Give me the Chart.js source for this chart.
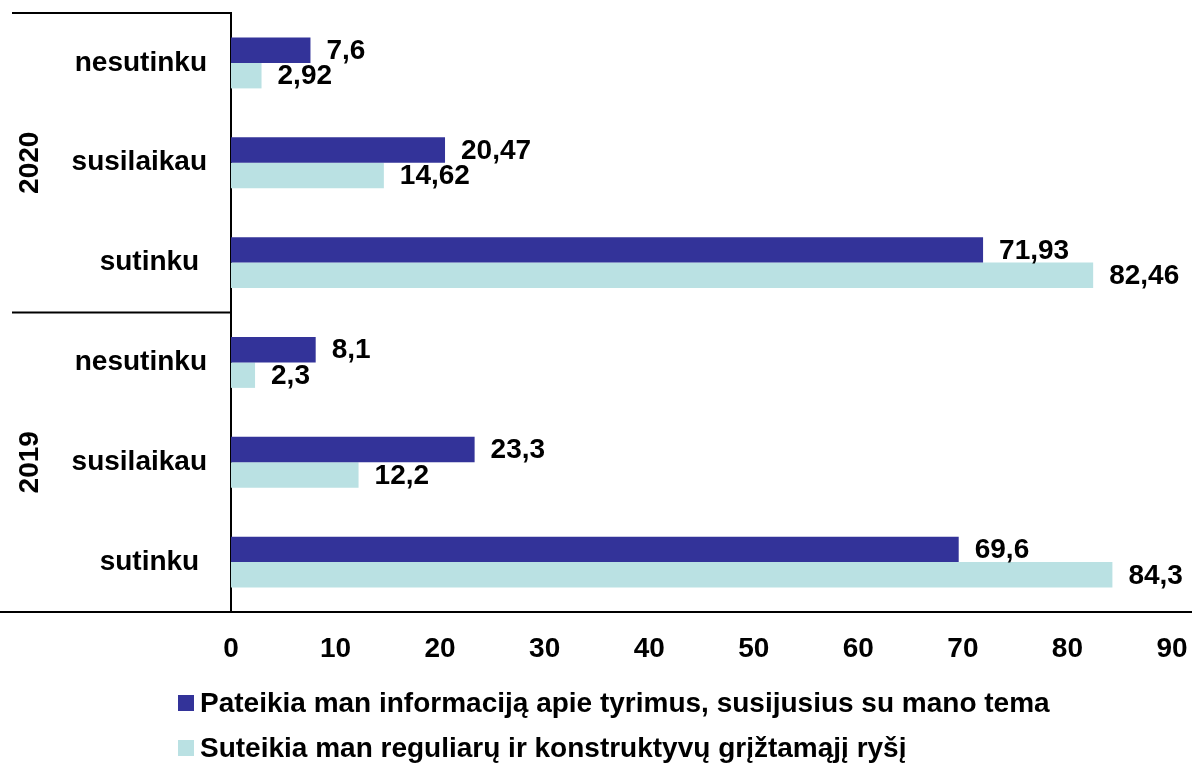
<!DOCTYPE html>
<html>
<head>
<meta charset="utf-8">
<script src="https://cdn.jsdelivr.net/npm/chart.js@4.4.1/dist/chart.umd.min.js"></script>
<style>
  html, body { margin: 0; padding: 0; background: #fff; }
  #wrap { width: 1194px; height: 765px; }
</style>
</head>
<body>
<div id="wrap"><canvas id="chartCanvas"></canvas></div>
<script>
"use strict";

const categories = ['nesutinku', 'susilaikau', 'sutinku ', 'nesutinku', 'susilaikau', 'sutinku '];
const groups = ['2020', '2019'];
const seriesNames = [
    'Pateikia man informaciją apie tyrimus, susijusius su mano tema',
    'Suteikia man reguliarų ir konstruktyvų grįžtamąjį ryšį'
];
const infoValues = [7.6, 20.47, 71.93, 8.1, 23.3, 69.6];
const feedbackValues = [2.92, 14.62, 82.46, 2.3, 12.2, 84.3];
const xMin = 0, xMax = 90, xStep = 10;

const FONT = '"Liberation Sans", Arial, sans-serif';
const SIZE = 28;
const boldFont = { family: FONT, size: SIZE, weight: 'bold' };

// value labels next to each bar end
const valueLabels = {
    id: 'valueLabels',
    afterDatasetsDraw(chart) {
        const c = chart.ctx;
        c.save();
        c.font = 'bold ' + SIZE + 'px ' + FONT;
        c.fillStyle = '#000';
        c.textAlign = 'left';
        c.textBaseline = 'middle';
        chart.data.datasets.forEach((ds, di) => {
            chart.getDatasetMeta(di).data.forEach((bar, i) => {
                c.fillText(String(ds.data[i]).replace('.', ','), bar.x + 16, bar.y + 1);
            });
        });
        c.restore();
    }
};

// year groups, separator lines and the legend
const groupFrame = {
    id: 'groupFrame',
    afterDraw(chart) {
        const c = chart.ctx;
        const y = chart.scales.y;
        const area = chart.chartArea;
        const per = categories.length / groups.length;
        c.save();
        c.strokeStyle = '#000';
        c.lineWidth = 2;
        c.beginPath();
        c.moveTo(12, area.top); c.lineTo(area.left, area.top);
        for (let g = 1; g < groups.length; g++) {
            const yy = (y.getPixelForTick(g * per - 1) + y.getPixelForTick(g * per)) / 2;
            c.moveTo(12, yy); c.lineTo(area.left, yy);
        }
        c.moveTo(0, area.bottom); c.lineTo(chart.width - 2, area.bottom);
        c.stroke();

        c.font = 'bold ' + SIZE + 'px ' + FONT;
        c.fillStyle = '#000';
        c.textAlign = 'center';
        c.textBaseline = 'middle';
        groups.forEach((g, gi) => {
            const mid = y.getPixelForTick(gi * per + (per - 1) / 2);
            c.save();
            c.translate(30, mid);
            c.rotate(-Math.PI / 2);
            c.fillText(g, 0, 0);
            c.restore();
        });

        // legend
        c.textAlign = 'left';
        chart.data.datasets.forEach((ds, di) => {
            const ly = 703 + di * 45;
            c.fillStyle = ds.backgroundColor;
            c.fillRect(178, ly - 8, 16, 16);
            c.fillStyle = '#000';
            c.fillText(ds.label, 200, ly + 1);
        });
        c.restore();
    }
};

new Chart(document.getElementById('chartCanvas').getContext('2d'), {
    type: 'bar',
    data: {
        labels: categories,
        datasets: [
            { label: seriesNames[0], data: infoValues, backgroundColor: '#333399' },
            { label: seriesNames[1], data: feedbackValues, backgroundColor: '#BAE1E3' }
        ]
    },
    options: {
        indexAxis: 'y',
        responsive: true,
        maintainAspectRatio: false,
        animation: false,
        layout: { padding: { top: 0, right: 0, left: 0, bottom: 0 } },
        datasets: { bar: { categoryPercentage: 0.51, barPercentage: 1.0 } },
        plugins: { legend: { display: false }, tooltip: { enabled: false } },
        scales: {
            y: {
                grid: { display: false, drawTicks: true, tickLength: 24 },
                border: { display: true, color: '#000', width: 2 },
                ticks: { color: '#000', font: Object.assign({}, boldFont, { lineHeight: 0.93 }), padding: 0 },
                afterFit(s) { s.width = 231; }
            },
            x: {
                min: xMin,
                max: xMax,
                grid: { display: false, drawTicks: false },
                border: { display: false },
                ticks: { stepSize: xStep, color: '#000', font: boldFont, padding: 20, maxRotation: 0 },
                afterFit(s) { s.height = 153; s.paddingRight = 22; s.paddingLeft = 0; }
            }
        }
    },
    plugins: [valueLabels, groupFrame]
});
</script>
</body>
</html>
